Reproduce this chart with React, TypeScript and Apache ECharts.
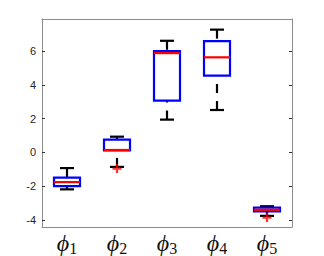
import React, { useEffect, useRef } from "react";
import * as echarts from "echarts";

const categories = ["1", "2", "3", "4", "5"];
// [low whisker, q1, median, q3, high whisker]
const boxValues = [
  [-2.19, -2.0, -1.76, -1.5, -0.93],
  [-0.86, 0.12, 0.14, 0.76, 0.93],
  [1.94, 3.06, 5.88, 6.0, 6.61],
  [2.51, 4.55, 5.63, 6.59, 7.27],
  [-3.76, -3.5, -3.4, -3.27, -3.19],
];
const outliers = [
  [1, -0.96],
  [4, -3.86],
];
const yTicks = [-4, -2, 0, 2, 4, 6];
const yMin = -4.42;
const yMax = 7.9;

export default function App() {
  const ref = useRef<HTMLDivElement>(null);
  useEffect(() => {
    document.body.style.margin = "0";
    const chart = echarts.init(ref.current!, null, { renderer: "svg" });
    const axisColor = "#8c8c8c";
    const tickColor = "#333";
    const boxData = boxValues.map((v, i) => [i, ...v]);
    chart.setOption({
      animation: false,
      backgroundColor: "#fff",
      grid: { left: 42, right: 32, top: 19, bottom: 29 },
      xAxis: [
        {
          type: "category",
          data: categories,
          position: "bottom",
          axisLine: { onZero: false, lineStyle: { color: axisColor, width: 1 } },
          axisTick: { inside: true, alignWithLabel: true, interval: 0, length: 3, lineStyle: { color: tickColor } },
          axisLabel: {
            interval: 0,
            margin: 3,
            formatter: (v: string) => `{p|ϕ}{s|${v}}`,
            rich: {
              p: { fontFamily: "Liberation Serif", fontStyle: "italic", fontSize: 24, color: "#111" },
              s: { fontFamily: "Liberation Serif", fontSize: 16, color: "#111", padding: [10, 0, 0, 0] },
            },
          },
          splitLine: { show: false },
        },
        {
          type: "category",
          data: categories,
          position: "top",
          axisLine: { onZero: false, lineStyle: { color: axisColor, width: 1 } },
          axisTick: { inside: true, alignWithLabel: true, interval: 0, length: 3, lineStyle: { color: tickColor } },
          axisLabel: { show: false },
          splitLine: { show: false },
        },
      ],
      yAxis: [
        {
          type: "value",
          min: yMin,
          max: yMax,
          position: "left",
          axisLine: { show: true, onZero: false, lineStyle: { color: axisColor, width: 1 } },
          axisTick: { show: true, inside: true, length: 3, customValues: yTicks, lineStyle: { color: tickColor } },
          axisLabel: {
            customValues: yTicks,
            fontFamily: "Liberation Sans",
            fontSize: 11,
            color: "#262626",
            margin: 6,
          },
          splitLine: { show: false },
        },
        {
          type: "value",
          min: yMin,
          max: yMax,
          position: "right",
          axisLine: { show: true, onZero: false, lineStyle: { color: axisColor, width: 1 } },
          axisTick: { show: true, inside: true, length: 3, customValues: yTicks, lineStyle: { color: tickColor } },
          axisLabel: { show: false },
          splitLine: { show: false },
        },
      ],
      series: [
        {
          type: "custom",
          xAxisIndex: 0,
          yAxisIndex: 0,
          data: boxData,
          renderItem: (params: any, api: any) => {
            const x = api.value(0);
            const low = api.value(1);
            const q1 = api.value(2);
            const med = api.value(3);
            const q3 = api.value(4);
            const high = api.value(5);
            const band = api.size([1, 0])[0];
            const bw = band * 0.52;
            const cw = band * 0.28;
            const pLow = api.coord([x, low]);
            const pQ1 = api.coord([x, q1]);
            const pMed = api.coord([x, med]);
            const pQ3 = api.coord([x, q3]);
            const pHigh = api.coord([x, high]);
            const cx = pMed[0];
            const black = { stroke: "#000", lineWidth: 2.2, fill: null };
            const dashed = { stroke: "#000", lineWidth: 2.2, lineDash: [9, 8], fill: null };
            return {
              type: "group",
              children: [
                { type: "line", shape: { x1: cx, y1: pHigh[1], x2: cx, y2: pQ3[1] }, style: dashed },
                { type: "line", shape: { x1: cx, y1: pLow[1], x2: cx, y2: pQ1[1] }, style: dashed },
                { type: "line", shape: { x1: cx - cw / 2, y1: pHigh[1], x2: cx + cw / 2, y2: pHigh[1] }, style: black },
                { type: "line", shape: { x1: cx - cw / 2, y1: pLow[1], x2: cx + cw / 2, y2: pLow[1] }, style: black },
                {
                  type: "rect",
                  shape: { x: cx - bw / 2, y: pQ3[1], width: bw, height: pQ1[1] - pQ3[1] },
                  style: { stroke: "#0000ff", lineWidth: 2.2, fill: "rgba(0,0,0,0)" },
                },
                {
                  type: "line",
                  shape: { x1: cx - bw / 2, y1: pMed[1], x2: cx + bw / 2, y2: pMed[1] },
                  style: { stroke: "#ff0000", lineWidth: 2.2 },
                },
              ],
            };
          },
        },
        {
          type: "scatter",
          xAxisIndex: 0,
          yAxisIndex: 0,
          data: outliers,
          symbol: "path://M3,0H5V3H8V5H5V8H3V5H0V3H3Z",
          symbolSize: 9,
          itemStyle: { color: "#ff0000" },
          z: 5,
        },
      ],
    });
    return () => chart.dispose();
  }, []);
  return <div ref={ref} style={{ width: 324, height: 256 }} />;
}
